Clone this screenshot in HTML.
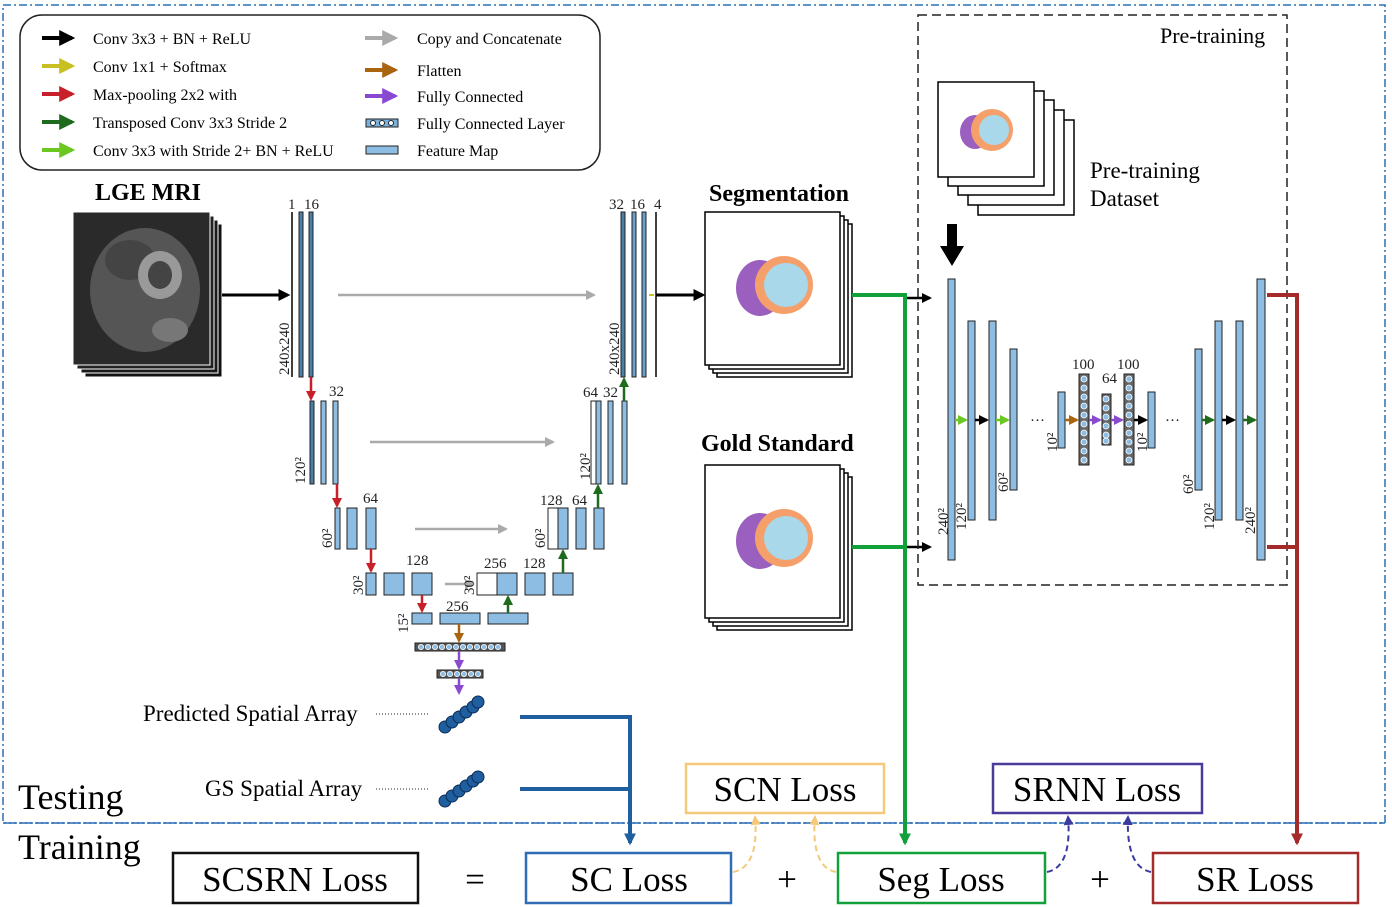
<!DOCTYPE html>
<html><head><meta charset="utf-8"><style>
body{margin:0;background:#fff}
svg{display:block;font-family:"Liberation Serif",serif}
</style></head><body>
<svg width="1392" height="907" viewBox="0 0 1392 907">
<defs>
<marker id="mb" viewBox="0 0 10 10" markerWidth="4" markerHeight="4" refX="8" refY="5" orient="auto"><path d="M0,0L10,5L0,10z" fill="#000"/></marker>
<marker id="mgr" viewBox="0 0 10 10" markerWidth="4" markerHeight="4" refX="8" refY="5" orient="auto"><path d="M0,0L10,5L0,10z" fill="#aaa"/></marker>
<marker id="mr" viewBox="0 0 10 10" markerWidth="4" markerHeight="4" refX="8" refY="5" orient="auto"><path d="M0,0L10,5L0,10z" fill="#c8202a"/></marker>
<marker id="mg" viewBox="0 0 10 10" markerWidth="4" markerHeight="4" refX="8" refY="5" orient="auto"><path d="M0,0L10,5L0,10z" fill="#1e6b1e"/></marker>
<marker id="mlg" viewBox="0 0 10 10" markerWidth="4" markerHeight="4" refX="8" refY="5" orient="auto"><path d="M0,0L10,5L0,10z" fill="#6cc820"/></marker>
<marker id="my" viewBox="0 0 10 10" markerWidth="4" markerHeight="4" refX="8" refY="5" orient="auto"><path d="M0,0L10,5L0,10z" fill="#c8c020"/></marker>
<marker id="mbr" viewBox="0 0 10 10" markerWidth="4" markerHeight="4" refX="8" refY="5" orient="auto"><path d="M0,0L10,5L0,10z" fill="#a8640f"/></marker>
<marker id="mp" viewBox="0 0 10 10" markerWidth="4" markerHeight="4" refX="8" refY="5" orient="auto"><path d="M0,0L10,5L0,10z" fill="#8a4ad0"/></marker>
<marker id="mgreen" viewBox="0 0 10 10" markerWidth="3" markerHeight="3" refX="8" refY="5" orient="auto"><path d="M0,0L10,5L0,10z" fill="#12a03a"/></marker>
<marker id="mdr" viewBox="0 0 10 10" markerWidth="3" markerHeight="3" refX="8" refY="5" orient="auto"><path d="M0,0L10,5L0,10z" fill="#a52a2a"/></marker>
<marker id="mblue" viewBox="0 0 10 10" markerWidth="3" markerHeight="3" refX="8" refY="5" orient="auto"><path d="M0,0L10,5L0,10z" fill="#1f5fa0"/></marker>
<marker id="mor" viewBox="0 0 10 10" markerWidth="5" markerHeight="5" refX="8" refY="5" orient="auto"><path d="M0,0L10,5L0,10z" fill="#f5c97a"/></marker>
<marker id="mpu" viewBox="0 0 10 10" markerWidth="5" markerHeight="5" refX="8" refY="5" orient="auto"><path d="M0,0L10,5L0,10z" fill="#3a3aa0"/></marker>
</defs>

<rect x="3" y="5" width="1382" height="818" fill="none" stroke="#2a6fb5" stroke-width="1.5" stroke-dasharray="8,3,2,3"/>
<line x1="3" y1="823" x2="1385" y2="823" stroke="#2a6fb5" stroke-width="1.5" stroke-dasharray="8,3,2,3"/>

<g font-size="16">
<rect x="20" y="15" width="580" height="155" rx="22" fill="#fff" stroke="#222" stroke-width="1.5"/>
<g stroke-width="4">
<line x1="42" y1="38" x2="72" y2="38" stroke="#000" marker-end="url(#mb)"/>
<line x1="42" y1="66" x2="72" y2="66" stroke="#c8c020" marker-end="url(#my)"/>
<line x1="42" y1="94" x2="72" y2="94" stroke="#c8202a" marker-end="url(#mr)"/>
<line x1="42" y1="122" x2="72" y2="122" stroke="#1e6b1e" marker-end="url(#mg)"/>
<line x1="42" y1="150" x2="72" y2="150" stroke="#6cc820" marker-end="url(#mlg)"/>
<line x1="365" y1="38" x2="395" y2="38" stroke="#aaa" marker-end="url(#mgr)"/>
<line x1="365" y1="70" x2="395" y2="70" stroke="#a8640f" marker-end="url(#mbr)"/>
<line x1="365" y1="96" x2="395" y2="96" stroke="#8a4ad0" marker-end="url(#mp)"/>
</g>
<rect x="366" y="119" width="32" height="8" fill="#7ab0dc" stroke="#222"/>
<circle cx="373" cy="123" r="2.5" fill="#fff" stroke="#222"/><circle cx="382" cy="123" r="2.5" fill="#fff" stroke="#222"/><circle cx="391" cy="123" r="2.5" fill="#fff" stroke="#222"/>
<rect x="366" y="146" width="32" height="8" fill="#8dbde3" stroke="#222"/>
<text x="93" y="44">Conv 3x3 + BN + ReLU</text>
<text x="93" y="72">Conv 1x1 + Softmax</text>
<text x="93" y="100">Max-pooling 2x2 with</text>
<text x="93" y="128">Transposed Conv 3x3 Stride 2</text>
<text x="93" y="156">Conv 3x3 with Stride 2+ BN + ReLU</text>
<text x="417" y="44">Copy and Concatenate</text>
<text x="417" y="76">Flatten</text>
<text x="417" y="102">Fully Connected</text>
<text x="417" y="129">Fully Connected Layer</text>
<text x="417" y="156">Feature Map</text>
</g>

<text x="95" y="200" font-size="24" font-weight="bold">LGE MRI</text>
<g>
<rect x="85" y="224" width="137" height="153" fill="#111" stroke="#fff"/>
<rect x="81" y="220" width="137" height="153" fill="#1a1a1a" stroke="#fff"/>
<rect x="77" y="216" width="137" height="153" fill="#222" stroke="#fff"/>
<rect x="73" y="212" width="137" height="153" fill="#2a2a2a" stroke="#fff"/>
<ellipse cx="145" cy="290" rx="55" ry="62" fill="#555"/>
<ellipse cx="130" cy="260" rx="25" ry="20" fill="#444"/>
<ellipse cx="160" cy="275" rx="22" ry="24" fill="#999"/>
<ellipse cx="160" cy="275" rx="12" ry="14" fill="#444"/>
<ellipse cx="170" cy="330" rx="18" ry="12" fill="#777"/>
</g>
<line x1="222" y1="295" x2="288" y2="295" stroke="#000" stroke-width="3" marker-end="url(#mb)"/>

<g stroke="#222" stroke-width="1">
<line x1="292" y1="212" x2="292" y2="377" stroke="#000" stroke-width="1.5"/>
<rect x="299" y="212" width="4" height="165" fill="#4a7fa8"/>
<rect x="309" y="212" width="4" height="165" fill="#4a7fa8"/>
<rect x="621" y="212" width="4" height="165" fill="#4a7fa8"/>
<rect x="632" y="212" width="4" height="165" fill="#6aa0cc"/>
<rect x="642" y="212" width="4" height="165" fill="#6aa0cc"/>
<line x1="656" y1="212" x2="656" y2="377" stroke="#000" stroke-width="1.5"/>
<rect x="310" y="401" width="4" height="83" fill="#4a7fa8"/>
<rect x="321" y="401" width="5" height="83" fill="#8dbde3"/>
<rect x="333" y="401" width="5" height="83" fill="#8dbde3"/>
<rect x="591" y="401" width="5" height="83" fill="#fff"/>
<rect x="596" y="401" width="5" height="83" fill="#8dbde3"/>
<rect x="608" y="401" width="5" height="83" fill="#8dbde3"/>
<rect x="622" y="401" width="5" height="83" fill="#8dbde3"/>
<rect x="335" y="508" width="5" height="41" fill="#8dbde3"/>
<rect x="347" y="508" width="10" height="41" fill="#8dbde3"/>
<rect x="366" y="508" width="10" height="41" fill="#8dbde3"/>
<rect x="548" y="508" width="10" height="41" fill="#fff"/>
<rect x="558" y="508" width="10" height="41" fill="#8dbde3"/>
<rect x="576" y="508" width="10" height="41" fill="#8dbde3"/>
<rect x="594" y="508" width="10" height="41" fill="#8dbde3"/>
<rect x="366" y="573" width="10" height="22" fill="#8dbde3"/>
<rect x="384" y="573" width="20" height="22" fill="#8dbde3"/>
<rect x="412" y="573" width="20" height="22" fill="#8dbde3"/>
<rect x="477" y="573" width="20" height="22" fill="#fff"/>
<rect x="497" y="573" width="20" height="22" fill="#8dbde3"/>
<rect x="525" y="573" width="20" height="22" fill="#8dbde3"/>
<rect x="553" y="573" width="20" height="22" fill="#8dbde3"/>
<rect x="412" y="613" width="20" height="11" fill="#8dbde3"/>
<rect x="440" y="613" width="40" height="11" fill="#8dbde3"/>
<rect x="488" y="613" width="40" height="11" fill="#8dbde3"/>
<rect x="415" y="643" width="90" height="8" fill="#555"/>
<rect x="437" y="670" width="46" height="8" fill="#555"/>
</g>
<g fill="#8dbde3" stroke="#fff" stroke-width="0.8">
<circle cx="421" cy="647" r="2.6"/><circle cx="428" cy="647" r="2.6"/><circle cx="435" cy="647" r="2.6"/><circle cx="442" cy="647" r="2.6"/><circle cx="449" cy="647" r="2.6"/><circle cx="456" cy="647" r="2.6"/><circle cx="463" cy="647" r="2.6"/><circle cx="470" cy="647" r="2.6"/><circle cx="477" cy="647" r="2.6"/><circle cx="484" cy="647" r="2.6"/><circle cx="491" cy="647" r="2.6"/><circle cx="498" cy="647" r="2.6"/>
<circle cx="443" cy="674" r="2.6"/><circle cx="450" cy="674" r="2.6"/><circle cx="457" cy="674" r="2.6"/><circle cx="464" cy="674" r="2.6"/><circle cx="471" cy="674" r="2.6"/><circle cx="478" cy="674" r="2.6"/>
</g>
<g stroke-width="2.5">
<line x1="338" y1="295" x2="594" y2="295" stroke="#aaa" marker-end="url(#mgr)"/>
<line x1="370" y1="442" x2="553" y2="442" stroke="#aaa" marker-end="url(#mgr)"/>
<line x1="415" y1="529" x2="506" y2="529" stroke="#aaa" marker-end="url(#mgr)"/>
<line x1="445" y1="584" x2="473" y2="584" stroke="#aaa" marker-end="url(#mgr)"/>
<line x1="311" y1="377" x2="311" y2="399" stroke="#c8202a" marker-end="url(#mr)"/>
<line x1="337" y1="484" x2="337" y2="506" stroke="#c8202a" marker-end="url(#mr)"/>
<line x1="371" y1="549" x2="371" y2="571" stroke="#c8202a" marker-end="url(#mr)"/>
<line x1="422" y1="595" x2="422" y2="611" stroke="#c8202a" marker-end="url(#mr)"/>
<line x1="508" y1="613" x2="508" y2="597" stroke="#1e6b1e" marker-end="url(#mg)"/>
<line x1="563" y1="573" x2="563" y2="551" stroke="#1e6b1e" marker-end="url(#mg)"/>
<line x1="598" y1="508" x2="598" y2="486" stroke="#1e6b1e" marker-end="url(#mg)"/>
<line x1="624" y1="401" x2="624" y2="379" stroke="#1e6b1e" marker-end="url(#mg)"/>
<line x1="459" y1="624" x2="459" y2="641" stroke="#a8640f" marker-end="url(#mbr)"/>
<line x1="459" y1="651" x2="459" y2="668" stroke="#8a4ad0" marker-end="url(#mp)"/>
<line x1="459" y1="678" x2="459" y2="693" stroke="#8a4ad0" marker-end="url(#mp)"/>
<line x1="649" y1="295" x2="654" y2="295" stroke="#c8c020" stroke-width="2"/>
<line x1="656" y1="295" x2="703" y2="295" stroke="#000" stroke-width="3" marker-end="url(#mb)"/>
</g>
<g font-size="15" fill="#222">
<text x="288" y="209">1</text><text x="304" y="209">16</text>
<text x="329" y="396">32</text><text x="363" y="503">64</text><text x="406" y="565">128</text>
<text x="446" y="611">256</text><text x="484" y="568">256</text><text x="523" y="568">128</text>
<text x="540" y="505">128</text><text x="572" y="505">64</text>
<text x="583" y="397">64</text><text x="603" y="397">32</text>
<text x="609" y="209">32</text><text x="630" y="209">16</text><text x="654" y="209">4</text>
<text transform="translate(289,375) rotate(-90)">240x240</text>
<text transform="translate(619,375) rotate(-90)">240x240</text>
<text transform="translate(305,484) rotate(-90)">120²</text>
<text transform="translate(590,480) rotate(-90)">120²</text>
<text transform="translate(332,548) rotate(-90)">60²</text>
<text transform="translate(545,548) rotate(-90)">60²</text>
<text transform="translate(363,595) rotate(-90)">30²</text>
<text transform="translate(474,595) rotate(-90)">30²</text>
<text transform="translate(408,633) rotate(-90)">15²</text>
</g>

<text x="709" y="201" font-size="24" font-weight="bold">Segmentation</text>
<text x="701" y="451" font-size="24" font-weight="bold">Gold Standard</text>
<g stroke="#000" stroke-width="1.5" fill="#fff">
<rect x="717" y="224" width="135" height="153"/><rect x="713" y="220" width="135" height="153"/><rect x="709" y="216" width="135" height="153"/><rect x="705" y="212" width="135" height="153"/>
<ellipse cx="760" cy="288" rx="24" ry="28" fill="#9b5fc0" stroke="none"/>
<circle cx="784" cy="285" r="29" fill="#f5a06a" stroke="none"/>
<circle cx="786" cy="285" r="22" fill="#a8d8ea" stroke="none"/>
</g>
<g stroke="#000" stroke-width="1.5" fill="#fff">
<rect x="717" y="477" width="135" height="153"/><rect x="713" y="473" width="135" height="153"/><rect x="709" y="469" width="135" height="153"/><rect x="705" y="465" width="135" height="153"/>
<ellipse cx="760" cy="541" rx="24" ry="28" fill="#9b5fc0" stroke="none"/>
<circle cx="784" cy="538" r="29" fill="#f5a06a" stroke="none"/>
<circle cx="786" cy="538" r="22" fill="#a8d8ea" stroke="none"/>
</g>

<g stroke="#12a03a" stroke-width="4" fill="none">
<polyline points="852,295 905,295 905,843" marker-end="url(#mgreen)"/>
<line x1="852" y1="547" x2="905" y2="547"/>
</g>
<line x1="907" y1="298" x2="930" y2="298" stroke="#000" stroke-width="2.5" marker-end="url(#mb)"/>
<line x1="907" y1="547" x2="930" y2="547" stroke="#000" stroke-width="2.5" marker-end="url(#mb)"/>

<rect x="918" y="15" width="369" height="570" fill="none" stroke="#222" stroke-width="1.5" stroke-dasharray="9,5"/>
<text x="1160" y="43" font-size="22">Pre-training</text>
<g stroke="#000" stroke-width="1.5" fill="#fff">
<rect x="978" y="120" width="96" height="95"/><rect x="968" y="110" width="96" height="95"/><rect x="958" y="100" width="96" height="95"/><rect x="948" y="91" width="96" height="95"/><rect x="938" y="82" width="96" height="95"/>
<ellipse cx="975" cy="132" rx="15" ry="17" fill="#9b5fc0" stroke="none"/>
<circle cx="992" cy="130" r="21" fill="#f5a06a" stroke="none"/>
<circle cx="994" cy="130" r="15" fill="#a8d8ea" stroke="none"/>
</g>
<text x="1090" y="178" font-size="23">Pre-training</text>
<text x="1090" y="206" font-size="23">Dataset</text>
<path d="M947,224 h10 v22 h7 l-12,20 l-12,-20 h7z" fill="#000"/>

<g fill="#8dbde3" stroke="#222" stroke-width="1">
<rect x="948" y="279" width="7" height="281"/>
<rect x="968" y="321" width="7" height="199"/>
<rect x="989" y="321" width="7" height="199"/>
<rect x="1010" y="349" width="7" height="141"/>
<rect x="1058" y="392" width="7" height="56"/>
<rect x="1079" y="374" width="10" height="91" fill="#666"/>
<rect x="1102" y="394" width="9" height="51" fill="#666"/>
<rect x="1124" y="374" width="10" height="91" fill="#666"/>
<rect x="1148" y="392" width="7" height="56"/>
<rect x="1195" y="349" width="7" height="141"/>
<rect x="1215" y="321" width="7" height="199"/>
<rect x="1236" y="321" width="7" height="199"/>
<rect x="1257" y="279" width="8" height="281"/>
</g>
<g fill="#8dbde3" stroke="#fff" stroke-width="0.8">
<circle cx="1084" cy="379" r="3"/><circle cx="1084" cy="388" r="3"/><circle cx="1084" cy="397" r="3"/><circle cx="1084" cy="406" r="3"/><circle cx="1084" cy="415" r="3"/><circle cx="1084" cy="424" r="3"/><circle cx="1084" cy="433" r="3"/><circle cx="1084" cy="442" r="3"/><circle cx="1084" cy="451" r="3"/><circle cx="1084" cy="460" r="3"/>
<circle cx="1106" cy="399" r="3"/><circle cx="1106" cy="408" r="3"/><circle cx="1106" cy="417" r="3"/><circle cx="1106" cy="426" r="3"/><circle cx="1106" cy="435" r="3"/><circle cx="1106" cy="441" r="3"/>
<circle cx="1129" cy="379" r="3"/><circle cx="1129" cy="388" r="3"/><circle cx="1129" cy="397" r="3"/><circle cx="1129" cy="406" r="3"/><circle cx="1129" cy="415" r="3"/><circle cx="1129" cy="424" r="3"/><circle cx="1129" cy="433" r="3"/><circle cx="1129" cy="442" r="3"/><circle cx="1129" cy="451" r="3"/><circle cx="1129" cy="460" r="3"/>
</g>
<g stroke-width="2.5">
<line x1="955" y1="420" x2="966" y2="420" stroke="#6cc820" marker-end="url(#mlg)"/>
<line x1="975" y1="420" x2="987" y2="420" stroke="#000" marker-end="url(#mb)"/>
<line x1="996" y1="420" x2="1008" y2="420" stroke="#6cc820" marker-end="url(#mlg)"/>
<line x1="1065" y1="420" x2="1077" y2="420" stroke="#a8640f" marker-end="url(#mbr)"/>
<line x1="1089" y1="420" x2="1100" y2="420" stroke="#8a4ad0" marker-end="url(#mp)"/>
<line x1="1111" y1="420" x2="1122" y2="420" stroke="#8a4ad0" marker-end="url(#mp)"/>
<line x1="1134" y1="420" x2="1146" y2="420" stroke="#000" marker-end="url(#mb)"/>
<line x1="1202" y1="420" x2="1213" y2="420" stroke="#1e6b1e" marker-end="url(#mg)"/>
<line x1="1222" y1="420" x2="1234" y2="420" stroke="#000" marker-end="url(#mb)"/>
<line x1="1243" y1="420" x2="1255" y2="420" stroke="#1e6b1e" marker-end="url(#mg)"/>
</g>
<g font-size="15" fill="#222">
<text x="1030" y="425">···</text><text x="1165" y="425">···</text>
<text x="1072" y="369">100</text><text x="1117" y="369">100</text><text x="1102" y="383">64</text>
<text transform="translate(948,535) rotate(-90)">240²</text>
<text transform="translate(966,530) rotate(-90)">120²</text>
<text transform="translate(1008,492) rotate(-90)">60²</text>
<text transform="translate(1057,452) rotate(-90)">10²</text>
<text transform="translate(1147,452) rotate(-90)">10²</text>
<text transform="translate(1193,494) rotate(-90)">60²</text>
<text transform="translate(1214,530) rotate(-90)">120²</text>
<text transform="translate(1255,534) rotate(-90)">240²</text>
</g>

<g stroke="#a52a2a" stroke-width="4" fill="none">
<polyline points="1267,295 1297,295 1297,843" marker-end="url(#mdr)"/>
<line x1="1267" y1="547" x2="1297" y2="547"/>
</g>

<text x="143" y="721" font-size="23">Predicted Spatial Array</text>
<text x="205" y="796" font-size="23">GS Spatial Array</text>
<line x1="376" y1="714" x2="430" y2="714" stroke="#222" stroke-dasharray="1,2"/>
<line x1="376" y1="789" x2="430" y2="789" stroke="#222" stroke-dasharray="1,2"/>
<g fill="#1f5fa0" stroke="#0c2c55" stroke-width="1">
<circle cx="445" cy="727" r="6"/><circle cx="452" cy="722" r="6"/><circle cx="459" cy="717" r="6"/><circle cx="466" cy="712" r="6"/><circle cx="473" cy="707" r="6"/><circle cx="478" cy="702" r="6"/>
<circle cx="445" cy="801" r="6"/><circle cx="452" cy="796" r="6"/><circle cx="459" cy="791" r="6"/><circle cx="466" cy="786" r="6"/><circle cx="473" cy="781" r="6"/><circle cx="478" cy="777" r="6"/>
</g>
<g stroke="#1f5fa0" stroke-width="4" fill="none">
<polyline points="520,717 630,717 630,843" marker-end="url(#mblue)"/>
<line x1="520" y1="789" x2="630" y2="789"/>
</g>

<text x="18" y="809" font-size="36">Testing</text>
<text x="18" y="859" font-size="36">Training</text>

<g font-size="35" text-anchor="middle">
<rect x="686" y="764" width="198" height="49" fill="#fff" stroke="#f5c97a" stroke-width="2.5"/>
<text x="785" y="801">SCN Loss</text>
<rect x="993" y="764" width="209" height="49" fill="#fff" stroke="#4b3a9a" stroke-width="2.5"/>
<text x="1097" y="801">SRNN Loss</text>
<rect x="173" y="853" width="245" height="50" fill="#fff" stroke="#111" stroke-width="2.5"/>
<text x="295" y="891">SCSRN Loss</text>
<text x="475" y="891">=</text>
<rect x="526" y="853" width="205" height="50" fill="#fff" stroke="#2f6db5" stroke-width="2.5"/>
<text x="629" y="891">SC Loss</text>
<text x="787" y="891">+</text>
<rect x="838" y="853" width="207" height="50" fill="#fff" stroke="#12a03a" stroke-width="2.5"/>
<text x="941" y="891">Seg Loss</text>
<text x="1100" y="891">+</text>
<rect x="1153" y="853" width="205" height="50" fill="#fff" stroke="#a52a2a" stroke-width="2.5"/>
<text x="1255" y="891">SR Loss</text>
</g>
<g fill="none" stroke-width="2" stroke-dasharray="6,4">
<path d="M733,872 C755,868 757,840 755,817" stroke="#f5c97a" marker-end="url(#mor)"/>
<path d="M836,872 C815,868 813,840 815,817" stroke="#f5c97a" marker-end="url(#mor)"/>
<path d="M1047,872 C1068,868 1070,840 1068,817" stroke="#3a3aa0" marker-end="url(#mpu)"/>
<path d="M1151,872 C1130,868 1127,840 1128,817" stroke="#3a3aa0" marker-end="url(#mpu)"/>
</g>
</svg>
</body></html>
